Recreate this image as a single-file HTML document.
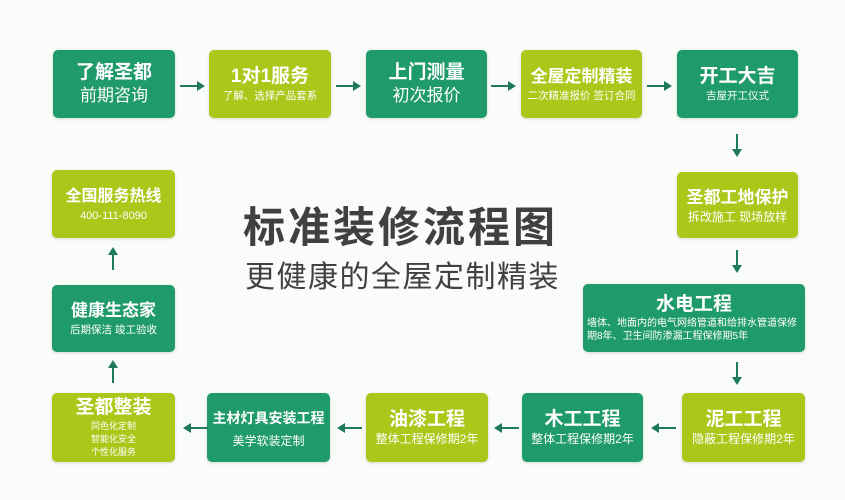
<!DOCTYPE html>
<html><head><meta charset="utf-8"><style>
body{margin:0;width:845px;height:500px;background:#fafcfa;position:relative;overflow:hidden;font-family:"Liberation Sans","Noto Sans CJK SC",sans-serif}
.b{position:absolute;border-radius:5px;color:#fff;text-align:center;box-shadow:0 1px 3px rgba(0,0,0,.15);display:flex;flex-direction:column;justify-content:center;align-items:center}
.d{background:#1f9a6b}.l{background:#a9c81a}
.t{font-weight:bold;font-size:19px;line-height:24px}
.s{font-size:17px;line-height:22px}
.x{font-size:10.5px;line-height:15px}
.ah,.av{position:absolute;background:#1f7a5a}
.ah{height:2px;width:22px}.av{width:2px;height:20px}
.ah::after,.av::after{content:"";position:absolute;border:5px solid transparent}
.r::after{right:-8px;top:-4px;border-left:8px solid #1f7a5a}
.lf::after{left:-8px;top:-4px;border-right:8px solid #1f7a5a}
.dn::after{bottom:-8px;left:-4px;border-top:8px solid #1f7a5a}
.up::after{top:-8px;left:-4px;border-bottom:8px solid #1f7a5a}
</style></head><body>
<div class="b d" style="left:53px;top:50px;width:122px;height:68px"><div class="t">了解圣都</div><div class="s">前期咨询</div></div>
<div class="b l" style="left:209px;top:50px;width:122px;height:68px"><div class="t">1对1服务</div><div class="x">了解、选择产品套系</div></div>
<div class="b d" style="left:366px;top:50px;width:121px;height:68px"><div class="t">上门测量</div><div class="s">初次报价</div></div>
<div class="b l" style="left:521px;top:50px;width:121px;height:68px"><div class="t" style="font-size:17px">全屋定制精装</div><div class="x">二次精准报价 签订合同</div></div>
<div class="b d" style="left:677px;top:50px;width:121px;height:68px"><div class="t">开工大吉</div><div class="x">吉屋开工仪式</div></div>
<div class="b l" style="left:677px;top:172px;width:121px;height:66px"><div class="t" style="font-size:17px">圣都工地保护</div><div class="x" style="font-size:12px">拆改施工 现场放样</div></div>
<div class="b d" style="left:583px;top:284px;width:222px;height:68px"><div class="t">水电工程</div><div class="x" style="font-size:10px;line-height:13px;text-align:left;padding:0 4px">墙体、地面内的电气网络管道和给排水管道保修期8年、卫生间防渗漏工程保修期5年</div></div>
<div class="b l" style="left:682px;top:393px;width:123px;height:69px"><div class="t">泥工工程</div><div class="x" style="font-size:12px">隐蔽工程保修期2年</div></div>
<div class="b d" style="left:522px;top:393px;width:121px;height:69px"><div class="t">木工工程</div><div class="x" style="font-size:12px">整体工程保修期2年</div></div>
<div class="b l" style="left:366px;top:393px;width:122px;height:69px"><div class="t">油漆工程</div><div class="x" style="font-size:12px">整体工程保修期2年</div></div>
<div class="b d" style="left:207px;top:393px;width:123px;height:69px"><div class="t" style="font-size:14px">主材灯具安装工程</div><div class="x" style="font-size:12px;margin-top:4px">美学软装定制</div></div>
<div class="b l" style="left:52px;top:393px;width:123px;height:69px"><div class="t">圣都整装</div><div class="x" style="font-size:9px;line-height:13px">同色化定制<br>智能化安全<br>个性化服务</div></div>
<div class="b d" style="left:52px;top:285px;width:123px;height:67px"><div class="t" style="font-size:17px">健康生态家</div><div class="x">后期保洁 竣工验收</div></div>
<div class="b l" style="left:52px;top:170px;width:123px;height:68px"><div class="t" style="font-size:16px">全国服务热线</div><div class="x" style="font-size:11px">400-111-8090</div></div>
<div class="ah r" style="left:180px;top:85px"></div>
<div class="ah r" style="left:336px;top:85px"></div>
<div class="ah r" style="left:491px;top:85px"></div>
<div class="ah r" style="left:647px;top:85px"></div>
<div class="av dn" style="left:736px;top:134px"></div>
<div class="av dn" style="left:736px;top:250px"></div>
<div class="av dn" style="left:736px;top:362px"></div>
<div class="ah lf" style="left:654px;top:427px"></div>
<div class="ah lf" style="left:497px;top:427px"></div>
<div class="ah lf" style="left:340px;top:427px"></div>
<div class="ah lf" style="left:186px;top:427px"></div>
<div class="av up" style="left:112px;top:363px"></div>
<div class="av up" style="left:112px;top:250px"></div>
<div style="position:absolute;left:243px;top:194px;font-size:42px;font-weight:bold;color:#404040;letter-spacing:3px;white-space:nowrap">标准装修流程图</div>
<div style="position:absolute;left:245px;top:252px;font-size:30px;color:#404040;letter-spacing:1.5px;white-space:nowrap">更健康的全屋定制精装</div>
</body></html>
